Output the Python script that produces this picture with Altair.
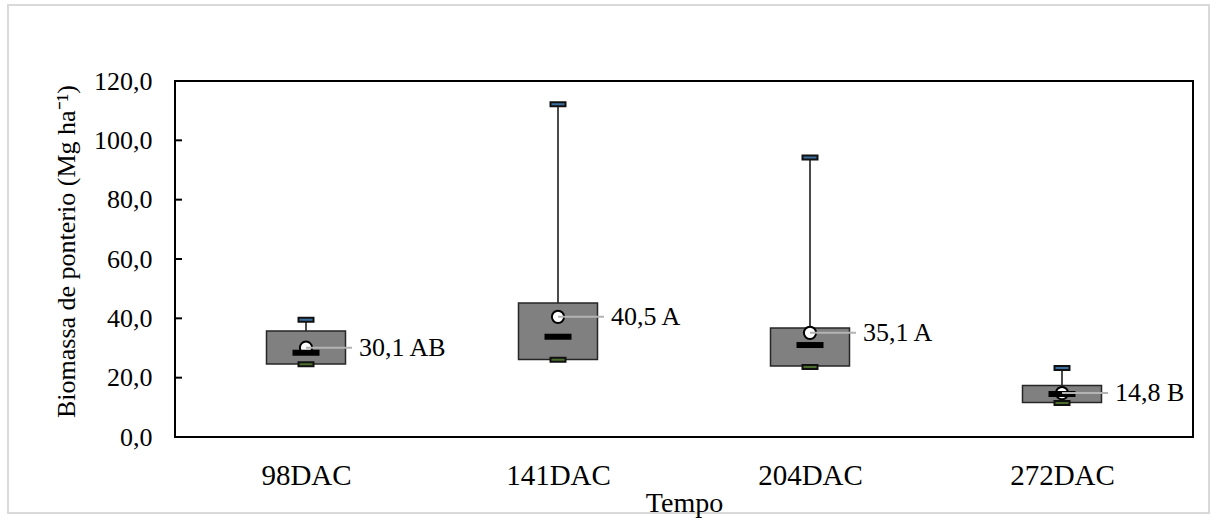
import json
import altair as alt
import pandas as pd

# ---- data ----
categories = ["98DAC", "141DAC", "204DAC", "272DAC"]
q1_vals = [24.6, 26.1, 23.9, 11.6]
q3_vals = [35.7, 45.2, 36.7, 17.4]
median_vals = [28.4, 33.8, 31.0, 14.5]
mean_vals = [30.1, 40.5, 35.1, 14.8]
max_vals = [39.5, 112.2, 94.2, 23.3]
min_vals = [24.5, 26.0, 23.6, 11.5]
mean_labels = ["30,1 AB", "40,5 A", "35,1 A", "14,8 B"]
y_ticks = [0, 20, 40, 60, 80, 100, 120]

df = pd.DataFrame({
    "idx": list(range(len(categories))),
    "cat": categories,
    "q1": q1_vals,
    "q3": q3_vals,
    "med": median_vals,
    "mean": mean_vals,
    "max": max_vals,
    "min": min_vals,
    "lab": mean_labels,
})
ticks_df = pd.DataFrame({"t": y_ticks})

FONT = "Liberation Serif"
label_expr = json.dumps(categories) + "[datum.value]"

x_scale = alt.Scale(domain=[-0.5, len(categories) - 0.5], nice=False, zero=False)
y_scale = alt.Scale(domain=[0, 120], nice=False)

X = alt.X(
    "idx:Q",
    scale=x_scale,
    axis=alt.Axis(
        values=list(range(len(categories))),
        labelExpr=label_expr,
        ticks=False,
        grid=False,
        domain=False,
        labelFont=FONT,
        labelFontSize=29,
        labelColor="black",
        labelPadding=24,
        title="Tempo",
        titleFont=FONT,
        titleFontSize=28,
        titleFontWeight="normal",
        titleColor="black",
        titleY=74,
        titleBaseline="alphabetic",
        zindex=1,
    ),
)
Y = alt.Y(
    "q3:Q",
    scale=y_scale,
    axis=alt.Axis(
        values=y_ticks,
        labelExpr="replace(format(datum.value, '.1f'), '.', ',')",
        tickSize=0,
        grid=False,
        domain=False,
        labelFont=FONT,
        labelFontSize=26,
        labelColor="black",
        labelPadding=23,
        title="Biomassa de ponterio (Mg ha\u207b\u00b9)",
        titleFont=FONT,
        titleFontSize=26,
        titleFontWeight="normal",
        titleColor="black",
        titleX=-109,
        titleY=170,
        titleAngle=-90,
        titleBaseline="middle",
        titleAlign="center",
        zindex=1,
    ),
)

base = alt.Chart(df)

frame = alt.Chart(ticks_df.head(1)).mark_rect(
    filled=False, fillOpacity=0, stroke="#d9d9d9", strokeWidth=2
).encode(
    x=alt.value(-167), x2=alt.value(1034), y=alt.value(-76), y2=alt.value(432)
)

whisk_hi = base.mark_rule(color="#4a4a4a", strokeWidth=2).encode(
    x=X, y=Y, y2="max:Q"
)
whisk_lo = base.mark_rule(color="#4a4a4a", strokeWidth=2).encode(
    x="idx:Q", y="min:Q", y2="q1:Q"
)
box = base.mark_bar(size=79, color="#808080", stroke="#262626", strokeWidth=1.5).encode(
    x="idx:Q", y="q1:Q", y2="q3:Q"
)
cap_hi = base.mark_tick(
    orient="horizontal", size=15, thickness=4, color="#3d6f9e",
    stroke="#111111", strokeWidth=2, opacity=1
).encode(x="idx:Q", y="max:Q")
cap_lo = base.mark_tick(
    orient="horizontal", size=15, thickness=4, color="#4c6e2c",
    stroke="#111111", strokeWidth=2, opacity=1
).encode(x="idx:Q", y="min:Q")
mean_pt = base.mark_point(
    shape="circle", filled=True, fill="white", stroke="black",
    strokeWidth=2, size=150, opacity=1
).encode(x="idx:Q", y="mean:Q")
median_bar = base.mark_tick(
    orient="horizontal", size=27, thickness=6, color="black", opacity=1
).encode(x="idx:Q", y="med:Q")
leader = base.mark_rule(color="#b3b3b3", strokeWidth=2, x2Offset=46).encode(
    x="idx:Q", x2="idx:Q", y="mean:Q"
)
labels = base.mark_text(
    align="left", baseline="middle", dx=53, font=FONT, fontSize=26, color="black"
).encode(x="idx:Q", y="mean:Q", text="lab:N")

inner_ticks = alt.Chart(ticks_df).mark_rule(color="black", strokeWidth=2).encode(
    x=alt.value(0), x2=alt.value(7), y=alt.Y("t:Q", scale=y_scale)
)

chart = alt.layer(
    whisk_hi, frame, whisk_lo, box, cap_hi, cap_lo, mean_pt, median_bar,
    leader, labels, inner_ticks
).properties(
    width=1018,
    height=356,
    autosize=alt.AutoSizeParams(type="none"),
    padding={"left": 175, "top": 81, "right": 25, "bottom": 84},
    background="white",
).configure_view(
    stroke="black", strokeWidth=2
)

chart.save("out.html", embed_options={"renderer": "svg", "actions": False})
